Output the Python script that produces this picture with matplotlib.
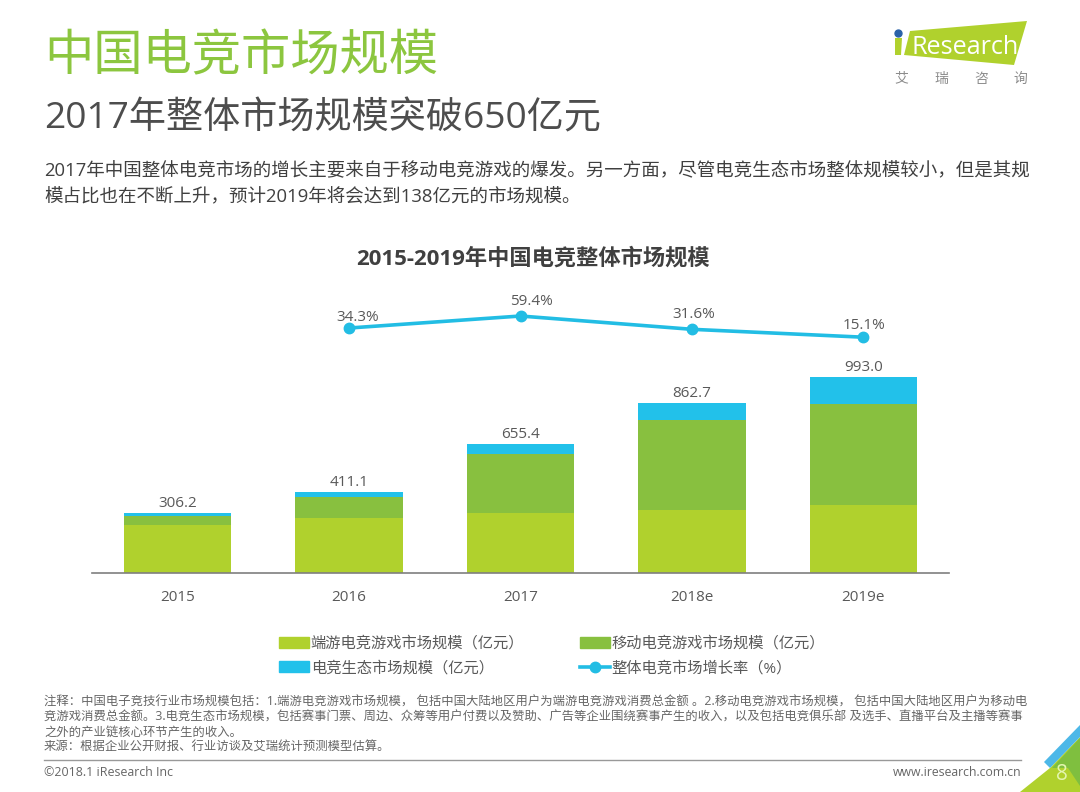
import matplotlib
matplotlib.use("Agg")
import matplotlib.pyplot as plt
from matplotlib.patches import Polygon, Patch
from matplotlib.lines import Line2D

plt.rcParams['font.family'] = ['Open Sans', 'Noto Sans CJK SC', 'DejaVu Sans']

years = ['2015', '2016', '2017', '2018e', '2019e']
pc_game = [245, 278, 304, 319, 344]
mobile_game = [44, 107, 299, 456, 511]
ecosystem = [17.2, 26.1, 52.4, 87.7, 138]
totals = [306.2, 411.1, 655.4, 862.7, 993.0]
growth = [34.3, 59.4, 31.6, 15.1]
growth_x = [1, 2, 3, 4]

# label nudges for the growth line, in points
label_dx = [6, 8, 1.5, 0.7]
label_dy = [2, 5, 5, 3]

legend_names = ['端游电竞游戏市场规模（亿元）', '电竞生态市场规模（亿元）',
                '移动电竞游戏市场规模（亿元）', '整体电竞市场增长率（%）']

c_pc = '#b0d12d'
c_mobile = '#88c03f'
c_eco = '#22c1ea'
c_line = '#22bde4'
c_text = '#595959'
W, H = 1080, 792

fig = plt.figure(figsize=(10.8, 7.92), dpi=100, facecolor='white')


def fx(x):
    return x / W


def fy(y):
    return 1 - y / H


def txt(x, y, s, size, color=c_text, **kw):
    kw.setdefault('va', 'center')
    fig.text(fx(x), fy(y), s, fontsize=size, color=color, **kw)


# header
txt(44, 58, '中国电竞市场规模', 35.5, color='#8cc63f')
txt(44, 119, '2017年整体市场规模突破650亿元', 26.7, color='#4d4d4d')
txt(44, 171, '2017年中国整体电竞市场的增长主要来自于移动电竞游戏的爆发。另一方面，尽管电竞生态市场整体规模较小，但是其规',
    13.3, color='#404040')
txt(44, 197, '模占比也在不断上升，预计2019年将会达到138亿元的市场规模。', 13.3, color='#404040')

# chart, px: x 92-949, y 290-573
ax = fig.add_axes([fx(92), fy(573), (949 - 92) / W, (573 - 290) / H])
ax.patch.set_alpha(0)
x = list(range(5))
bottom2 = [a + b for a, b in zip(pc_game, mobile_game)]
ax.bar(x, pc_game, width=0.627, color=c_pc)
ax.bar(x, mobile_game, width=0.627, bottom=pc_game, color=c_mobile)
ax.bar(x, ecosystem, width=0.627, bottom=bottom2, color=c_eco)
for i, t in enumerate(totals):
    ax.text(i, t + 10, f'{t:.1f}', ha='center', va='bottom', fontsize=11, color=c_text)
ax.set_xlim(-0.5, 4.5)
ax.set_ylim(0, 1433.6)
ax.set_xticks(x)
ax.set_xticklabels(years, fontsize=11, color=c_text)
ax.tick_params(axis='x', length=0, pad=12)
ax.set_yticks([])
for s in ['top', 'left', 'right']:
    ax.spines[s].set_visible(False)
ax.spines['bottom'].set_color('#7f7f7f')
ax.spines['bottom'].set_linewidth(1.2)

ax2 = ax.twinx()
ax2.patch.set_alpha(0)
ax2.set_ylim(-478, 113.8)
ax2.set_yticks([])
for s in ax2.spines.values():
    s.set_visible(False)
ax2.plot(growth_x, growth, color=c_line, lw=2.6, marker='o', ms=7.5)
for gx, g, dx, dy in zip(growth_x, growth, label_dx, label_dy):
    ax2.annotate(f'{g}%', (gx, g), xytext=(dx, dy), textcoords='offset points', ha='center',
                 va='bottom', fontsize=11, color=c_text)

txt(533, 259, '2015-2019年中国电竞整体市场规模', 16, color='#404040', ha='center', fontweight='bold')

# legend
handles = [Patch(color=c_pc), Patch(color=c_eco), Patch(color=c_mobile),
           Line2D([], [], color=c_line, lw=2.6, marker='o', ms=7.5)]
fig.legend(handles, legend_names, ncol=2, loc='center', bbox_to_anchor=(fx(552), fy(656.5)),
           frameon=False, fontsize=11, labelcolor=c_text, columnspacing=3.63, handlelength=2.0,
           handletextpad=0.1, labelspacing=0.6)

# notes
notes = ['注释：中国电子竞技行业市场规模包括：1.端游电竞游戏市场规模， 包括中国大陆地区用户为端游电竞游戏消费总金额 。2.移动电竞游戏市场规模， 包括中国大陆地区用户为移动电',
         '竞游戏消费总金额。3.电竞生态市场规模，包括赛事门票、周边、众筹等用户付费以及赞助、广告等企业围绕赛事产生的收入，以及包括电竞俱乐部 及选手、直播平台及主播等赛事',
         '之外的产业链核心环节产生的收入。',
         '来源：根据企业公开财报、行业访谈及艾瑞统计预测模型估算。']
for i, line in enumerate(notes):
    txt(44, 702 + i * 15, line, 8.89, color='#666666')
fig.add_artist(Line2D([fx(44), fx(1021)], [fy(759.5), fy(759.5)], color='#999999', lw=1))
txt(44, 773, '©2018.1 iResearch Inc', 8.9, color='#666666')
txt(1021, 773, 'www.iresearch.com.cn', 8.85, color='#666666', ha='right')


# logo and corner
def poly(pts, color, z=1):
    fig.add_artist(Polygon([(fx(a), fy(b)) for a, b in pts], closed=True, color=color, lw=0,
                           transform=fig.transFigure, zorder=z))


poly([(895, 38), (902, 38), (901, 55), (895, 55)], c_pc)
poly([(910, 31), (1027, 21), (1014, 65), (904, 55)], c_pc)
fig.add_artist(Line2D([fx(898)], [fy(33)], marker='o', ms=5, color='#2a62a8', lw=0))
txt(911, 47, 'Research', 18.1, color='white')
for cx, ch in zip([901, 941, 981, 1020], '艾瑞咨询'):
    txt(cx, 79, ch, 10, color='#8c8c8c', ha='center')

poly([(1020, 792), (1050, 768), (1080, 737), (1080, 792)], c_pc)
poly([(1052, 768), (1080, 738), (1080, 786), (1068, 768)], '#7fbf3f', z=2)
poly([(1044, 762), (1080, 725), (1080, 737), (1050, 768)], '#4db8e8', z=3)
txt(1062, 774, '8', 15, color='#e4f5b0', ha='center', zorder=5)

fig.savefig('out.png', dpi=100)
